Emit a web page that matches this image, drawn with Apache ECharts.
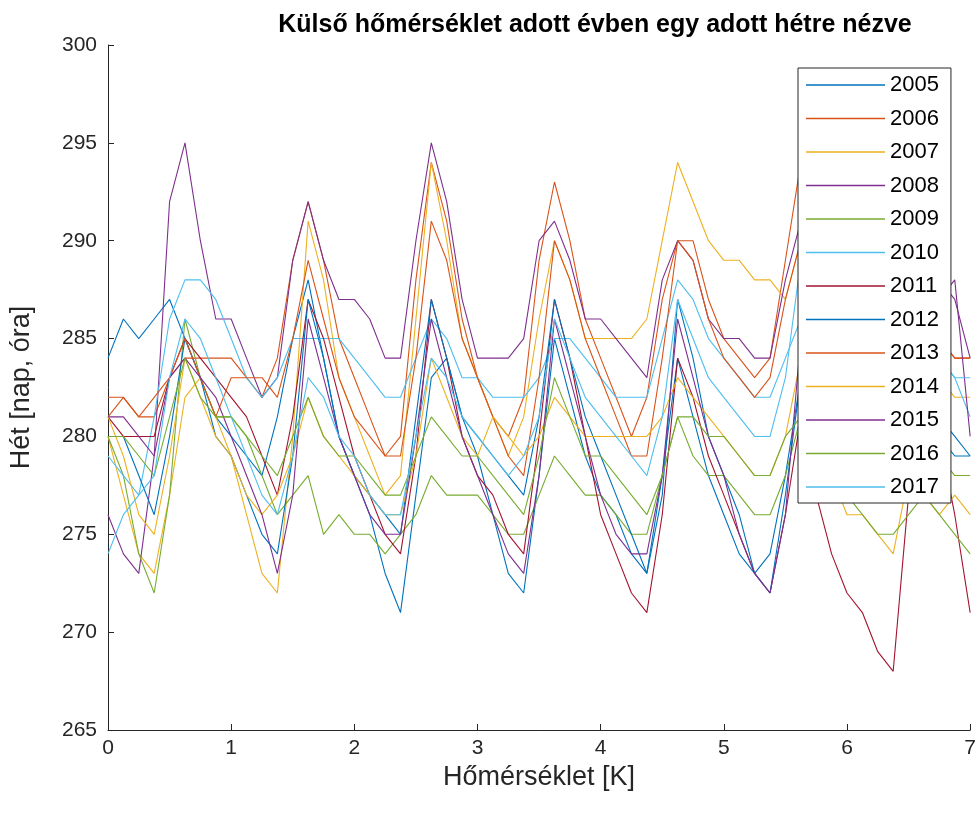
<!DOCTYPE html>
<html>
<head>
<meta charset="utf-8">
<script src="https://cdn.jsdelivr.net/npm/echarts@6/dist/echarts.min.js"></script>
<style>
  html, body { margin: 0; padding: 0; background: #fff; }
  #chart { width: 979px; height: 816px; }
</style>
</head>
<body>
<div id="chart"></div>
<script>
// Sampling: one value every 3 hours over a 7-day week
const STEP_HOURS = 3;
const xTicks = [0, 1, 2, 3, 4, 5, 6, 7];
const yTicks = [265, 270, 275, 280, 285, 290, 295, 300];

const years = ['2005','2006','2007','2008','2009','2010','2011','2012','2013','2014','2015','2016','2017'];

const y2005 = [284,286,285,286,287,285,283,281, 280,279,278,281,285,288,284,280, 278,276,273,271,277,283,284,281, 279,276,273,272,278,285,282,279, 277,276,274,273,278,284,281,278, 276,274,273,274,278,283,283,282, 281,280,279,280,281,283,281,280, 279];
const y2006 = [282,282,281,281,283,284,284,284, 284,283,282,284,289,292,289,285, 283,281,279,280,288,294,291,286, 283,281,280,282,289,293,290,286, 284,282,280,282,287,290,290,287, 285,284,283,284,289,294,292,289, 287,285,284,283,285,286,285,284, 284];
const y2007 = [280,277,274,273,277,282,283,281, 279,276,273,272,280,291,288,283, 281,279,277,278,286,294,290,285, 283,281,279,281,286,290,288,285, 285,285,285,286,290,294,292,290, 289,289,288,288,287,290,289,287, 285,283,282,282,283,284,283,282, 282];
const y2008 = [276,274,273,279,292,295,290,286, 286,284,282,283,289,292,289,287, 287,286,284,284,290,295,292,287, 284,284,284,285,290,291,289,286, 286,285,284,283,288,290,289,286, 285,285,284,284,288,291,290,288, 287,286,285,285,286,287,288,287, 284];
const y2009 = [280,278,274,272,277,286,283,281, 281,280,278,276,277,278,275,276, 275,275,274,275,276,278,277,277, 277,276,275,275,277,279,278,277, 277,276,275,275,278,281,279,278, 278,277,276,276,278,281,280,279, 279,278,278,278,279,280,279,278, 278];
const y2010 = [279,278,277,281,286,288,288,287, 285,283,282,283,285,285,285,285, 284,283,282,282,284,286,285,283, 283,282,282,282,283,285,285,284, 283,282,282,282,285,288,287,285, 284,283,282,282,284,286,285,284, 284,283,283,283,284,285,284,283, 281];
const y2011 = [281,280,280,280,283,285,284,283, 282,281,279,277,281,287,285,282, 279,277,275,274,279,287,284,280, 278,277,275,274,280,287,284,280, 276,274,272,271,276,284,282,279, 277,275,273,272,276,281,277,274, 272,271,269,268,277,283,280,276, 271];
const y2012 = [280,280,278,276,280,285,283,280, 279,277,275,274,279,287,284,280, 278,277,276,275,281,287,284,281, 280,279,278,277,281,287,284,281, 279,277,275,273,277,287,284,280, 278,276,273,272,277,283,281,279, 280,279,279,280,281,281,280,279, 279];
const y2013 = [281,282,281,282,283,285,283,281, 283,283,283,282,285,289,286,283, 281,280,279,279,284,291,289,285, 283,281,279,278,283,290,288,285, 283,281,279,279,284,290,289,286, 284,283,282,283,287,290,288,286, 285,284,283,282,283,285,285,284, 284];
const y2014 = [281,279,276,275,279,284,282,280, 279,277,276,277,279,282,280,279, 278,277,276,276,279,284,282,280, 279,281,280,279,280,282,281,280, 280,280,280,280,281,283,282,281, 280,279,278,278,280,284,282,278, 276,276,275,274,278,277,276,277, 276];
const y2015 = [281,281,280,279,283,284,283,282, 280,278,276,273,277,286,283,280, 278,276,275,275,280,286,283,280, 278,276,274,273,278,286,283,280, 277,275,274,274,278,286,283,280, 278,275,273,272,276,285,283,281, 282,283,284,285,286,287,287,288, 280];
const y2016 = [280,280,279,278,281,284,282,281, 281,280,279,278,280,282,280,279, 279,278,277,277,279,281,280,279, 279,278,277,276,279,283,281,279, 279,278,277,276,278,281,281,280, 280,279,278,278,280,281,280,279, 277,276,275,275,276,277,276,275, 274];
const y2017 = [274,276,277,278,283,286,285,283, 281,279,277,276,279,283,282,280, 279,277,276,276,280,284,283,281, 280,279,278,279,281,286,284,282, 281,280,279,278,281,287,285,283, 282,281,280,280,283,289,287,285, 284,283,283,283,284,285,284,283, 283];

const seriesValues = [y2005, y2006, y2007, y2008, y2009, y2010, y2011, y2012, y2013, y2014, y2015, y2016, y2017];

// MATLAB-style default colour order, cycling every seven lines
const palette = ['#0072BD', '#D95319', '#EDB120', '#7E2F8E', '#77AC30', '#4DBEEE', '#A2142F'];

const FONT = 'Liberation Sans, Arial, Helvetica, sans-serif';
const INK = '#262626';

const series = years.map((name, k) => ({
  name: name,
  type: 'line',
  symbol: 'none',
  smooth: false,
  color: palette[k % palette.length],
  lineStyle: { width: 1.1, color: palette[k % palette.length] },
  data: seriesValues[k].map((v, i) => [i * STEP_HOURS / 24, v])
}));

const chart = echarts.init(document.getElementById('chart'), null, { renderer: 'canvas' });
chart.setOption({
  animation: false,
  backgroundColor: '#fff',
  title: {
    text: 'Külső hőmérséklet adott évben egy adott hétre nézve',
    left: 590, top: 8, textAlign: 'center',
    textStyle: { fontFamily: FONT, fontSize: 25, fontWeight: 'bold', color: '#000' }
  },
  grid: { left: 108, right: 7, top: 45, bottom: 86, containLabel: false },
  xAxis: {
    type: 'value', min: xTicks[0], max: xTicks[xTicks.length - 1], interval: 1,
    name: 'Hőmérséklet [K]', nameLocation: 'middle', nameGap: 34,
    nameTextStyle: { fontFamily: FONT, fontSize: 27, color: INK },
    axisLine: { show: true, lineStyle: { color: INK, width: 1 } },
    axisTick: { show: true, inside: true, length: 6, lineStyle: { color: INK } },
    axisLabel: { fontFamily: FONT, fontSize: 21, color: INK, margin: 8 },
    splitLine: { show: false }
  },
  yAxis: {
    type: 'value', min: yTicks[0], max: yTicks[yTicks.length - 1], interval: 5,
    name: 'Hét [nap, óra]', nameLocation: 'middle', nameGap: 73, nameRotate: 90,
    nameTextStyle: { fontFamily: FONT, fontSize: 27, color: INK },
    axisLine: { show: true, lineStyle: { color: INK, width: 1 } },
    axisTick: { show: true, inside: true, length: 6, lineStyle: { color: INK } },
    axisLabel: { fontFamily: FONT, fontSize: 21, color: INK, margin: 11 },
    splitLine: { show: false }
  },
  legend: {
    orient: 'vertical', left: 798, top: 68,
    padding: [6, 12, 5, 8], itemGap: 11.5,
    icon: 'rect', itemWidth: 79, itemHeight: 1.5,
    borderColor: INK, borderWidth: 1, borderRadius: 0,
    backgroundColor: '#fff',
    data: years,
    textStyle: { fontFamily: FONT, fontSize: 22, lineHeight: 22, color: '#000' }
  },
  series: series
});
</script>
</body>
</html>
